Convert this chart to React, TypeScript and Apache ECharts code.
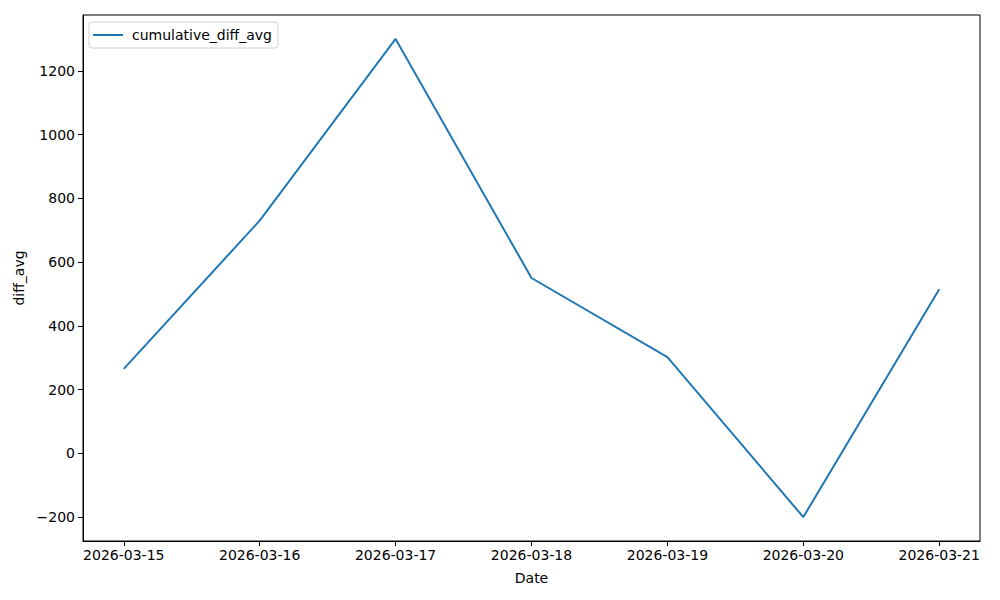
import React, { useEffect, useRef } from "react";
import * as echarts from "echarts";

const dates = ["2026-03-15", "2026-03-16", "2026-03-17", "2026-03-18", "2026-03-19", "2026-03-20", "2026-03-21"];
const cumulativeDiffAvg = [265, 730, 1300, 550, 302, -200, 515];
const yTicks = [-200, 0, 200, 400, 600, 800, 1000, 1200];
const seriesName = "cumulative_diff_avg";

export default function App() {
  const ref = useRef<HTMLDivElement>(null);
  useEffect(() => {
    if (!ref.current) return;
    const chart = echarts.init(ref.current, null, { renderer: "svg" });
    const font = "DejaVu Sans";
    const fs = 14;
    const xIdx = dates.map((_, i) => i);
    chart.setOption({
      animation: false,
      textStyle: { fontFamily: font },
      grid: {
        left: 83, right: 20, top: 15, bottom: 59,
        show: true, borderColor: "#000", borderWidth: 1, backgroundColor: "transparent",
      },
      legend: {
        data: [seriesName],
        left: 89, top: 22,
        orient: "vertical",
        padding: [6, 6, 6, 4],
        borderColor: "#d0d0d0", borderWidth: 1, borderRadius: 3,
        backgroundColor: "rgba(255,255,255,0.8)",
        itemWidth: 30, itemHeight: 12, itemGap: 6,
        icon: "path://M0,5 L30,5 L30,7 L0,7 Z",
        textStyle: { fontFamily: font, fontSize: fs, color: "#000", padding: [0, 0, 0, 4] },
      },
      xAxis: {
        type: "value",
        min: -0.3, max: 6.3,
        name: "Date", nameLocation: "middle", nameGap: 30,
        nameTextStyle: { fontFamily: font, fontSize: fs, color: "#000" },
        axisLine: { show: true, onZero: false, lineStyle: { color: "#000", width: 1 } },
        axisTick: { show: true, length: 5, inside: false, lineStyle: { color: "#000" }, customValues: xIdx },
        axisLabel: {
          show: true, color: "#000", fontSize: fs, fontFamily: font, margin: 7,
          customValues: xIdx,
          formatter: (v: number) => dates[Math.round(v)] ?? "",
        },
        splitLine: { show: false },
      },
      yAxis: {
        type: "value",
        min: -275, max: 1375,
        name: "diff_avg", nameLocation: "middle", nameGap: 54,
        nameTextStyle: { fontFamily: font, fontSize: fs, color: "#000" },
        axisLine: { show: true, onZero: false, lineStyle: { color: "#000", width: 1 } },
        axisTick: { show: true, length: 5, lineStyle: { color: "#000" }, customValues: yTicks },
        axisLabel: {
          show: true, color: "#000", fontSize: fs, fontFamily: font, margin: 8,
          customValues: yTicks,
          formatter: (v: number) => (v < 0 ? "\u2212" + Math.abs(v) : String(v)),
        },
        splitLine: { show: false },
      },
      series: [
        {
          name: seriesName,
          type: "line",
          data: cumulativeDiffAvg.map((v, i) => [i, v]),
          symbol: "none",
          lineStyle: { color: "#1f77b4", width: 2 },
          itemStyle: { color: "#1f77b4" },
        },
      ],
    });
    return () => chart.dispose();
  }, []);
  return <div ref={ref} style={{ position: "fixed", left: 0, top: 0, width: 1000, height: 600, background: "#fff" }} />;
}
